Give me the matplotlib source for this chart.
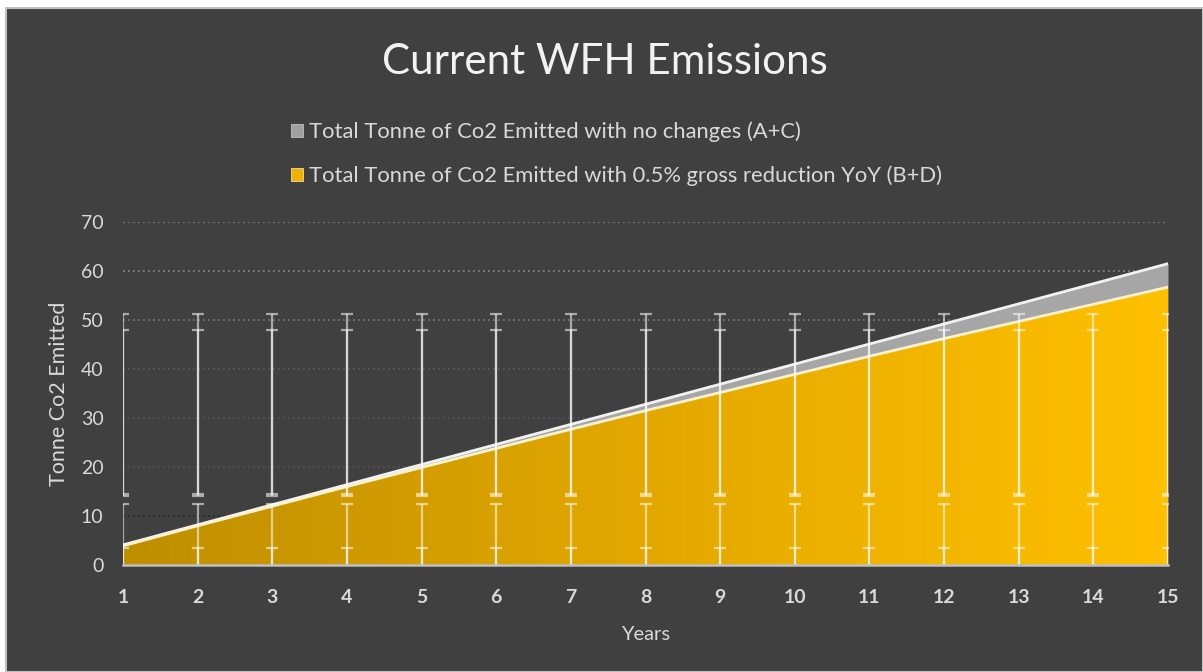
import numpy as np
import matplotlib
matplotlib.use("Agg")
import matplotlib.pyplot as plt
from matplotlib.colors import LinearSegmentedColormap
from matplotlib.patches import Rectangle, Patch

plt.rcParams['font.family'] = ['Lato', 'DejaVu Sans']

years = np.arange(1, 16)
# total tonne CO2, no changes (A+C)
total_no_change = [4.1, 8.2, 12.3, 16.4, 20.5, 24.6, 28.7, 32.8, 36.9, 41.0,
                   45.1, 49.2, 53.3, 57.4, 61.5]
# total tonne CO2 with 0.5% gross reduction YoY (B+D)
total_reduced = [3.9, 8.0, 12.0, 16.0, 19.9, 23.8, 27.7, 31.5, 35.2, 38.9,
                 42.6, 46.2, 49.7, 53.2, 56.7]
# lower error bar tops (bottoms sit below the axis)
lower_bar_tops = [12.4, 3.5]
lower_bar_bottom = -5.0

label_a = "Total Tonne of Co2 Emitted with no changes (A+C)"
label_b = "Total Tonne of Co2 Emitted with 0.5% gross reduction YoY (B+D)"

bg = '#404040'
txt = '#d9d9d9'

fig = plt.figure(figsize=(12.03, 6.72), dpi=100, facecolor='white')
fig.patches.append(Rectangle((6 / 1203, 0), 1 - 6 / 1203, 1 - 8 / 672,
                             transform=fig.transFigure, facecolor=bg,
                             edgecolor='#c0c0c0', lw=1.5, zorder=-10))

ax = fig.add_axes([123 / 1203, 1 - 565 / 672, (1168 - 123) / 1203, (565 - 222) / 672])
ax.set_facecolor('none')
ax.set_xlim(1, 15)
ax.set_ylim(0, 70)

# dotted gridlines (lower ones look darker in the original)
grid_cols = {10: '#262626', 20: '#555555', 30: '#555555', 40: '#5c5c5c',
             50: '#7a7a7a', 60: '#8a8a8a', 70: '#8a8a8a'}
for lvl, c in grid_cols.items():
    ax.axhline(lvl, color=c, lw=1.2, ls=(0, (1, 2)), zorder=0)

# grey area (A+C) and its top edge
ax.fill_between(years, 0, total_no_change, color='#a6a6a6', lw=0, zorder=1)
ax.plot(years, total_no_change, color='#f2f2f2', lw=2, zorder=3)

# yellow area with horizontal gradient
poly = ax.fill_between(years, 0, total_reduced, facecolor='none', lw=0, zorder=2)
cmap = LinearSegmentedColormap.from_list('gold', ['#bf8f00', '#e3a800', '#ffc000'])
grad = ax.imshow(np.linspace(0, 1, 256).reshape(1, -1), cmap=cmap, aspect='auto',
                 extent=[1, 15, 0, 70], zorder=2, interpolation='bicubic')
grad.set_clip_path(poly.get_paths()[0], transform=ax.transData)
ax.plot(years, total_reduced, color='#fff2cc', lw=2, zorder=3)

# standard deviation error bars (Excel style: mean +/- sd, same for every point)
eb_kw = dict(fmt='none', ecolor='white', alpha=0.55, elinewidth=1.6,
             capsize=4.5, capthick=1.6, zorder=4)
for series in (total_no_change, total_reduced):
    m = np.mean(series)
    sd = np.std(series, ddof=1)
    ax.errorbar(years, np.full(len(years), m), yerr=sd, **eb_kw)
for top in lower_bar_tops:
    ax.errorbar(years, np.full(len(years), top),
                yerr=[np.full(len(years), top - lower_bar_bottom), np.zeros(len(years))],
                **eb_kw)

for s in ('top', 'right', 'left'):
    ax.spines[s].set_visible(False)
ax.spines['bottom'].set_color('#bfbfbf')
ax.spines['bottom'].set_linewidth(1.8)
ax.spines['bottom'].set_zorder(5)

ax.set_xticks(years)
ax.set_yticks(np.arange(0, 71, 10))
ax.tick_params(axis='both', length=0, colors=txt, labelsize=14)
ax.tick_params(axis='y', pad=14)
ax.tick_params(axis='x', pad=17)
for lab in ax.get_xticklabels():
    lab.set_fontweight('bold')

ax.set_xlabel("Years", color=txt, fontsize=14.5, labelpad=15)
ax.set_ylabel("Tonne Co2 Emitted", color=txt, fontsize=15.5, labelpad=8.5)

fig.text(0.503, 1 - 62 / 672, "Current WFH Emissions", color='#f2f2f2',
         fontsize=30.3, ha='center', va='center')

handles = [Patch(facecolor='#a0a0a0', edgecolor='#d0d0d0', lw=0.5),
           Patch(facecolor='#f0b400', edgecolor='#fff2cc', lw=0.5)]
leg = fig.legend(handles, [label_a, label_b], loc='upper left',
                 bbox_to_anchor=(271 / 1203, 1 - 102 / 672), frameon=False,
                 fontsize=15.8, labelcolor=txt, handlelength=0.55, handleheight=0.55,
                 handletextpad=0.3, labelspacing=1.05)

fig.savefig("out.png", dpi=100, facecolor=fig.get_facecolor())
